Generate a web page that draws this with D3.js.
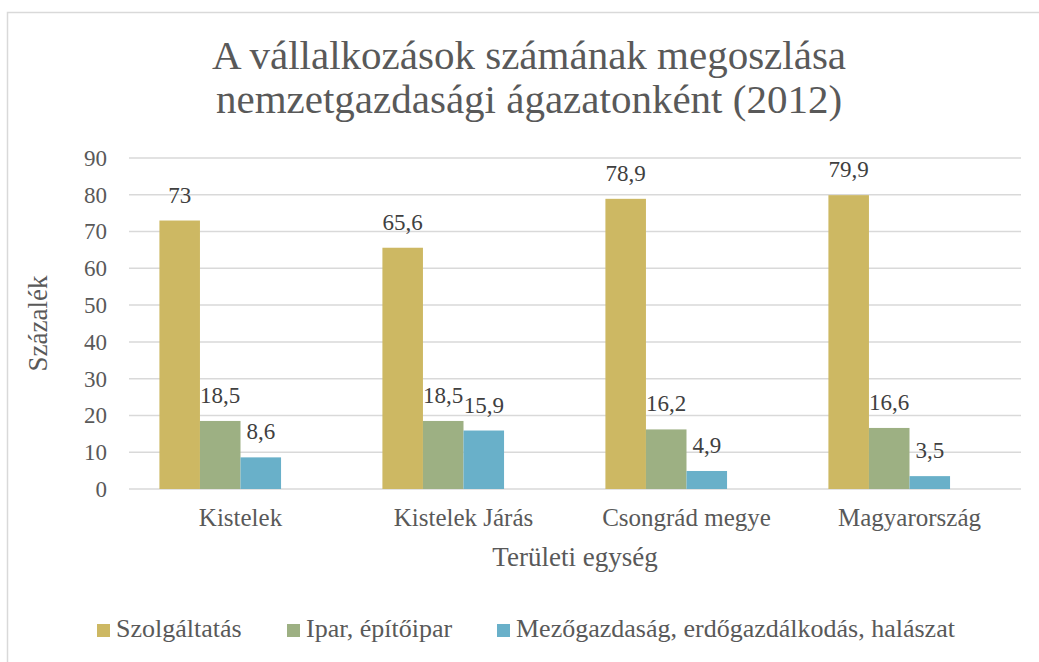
<!DOCTYPE html>
<html>
<head>
<meta charset="utf-8">
<script src="https://cdn.jsdelivr.net/npm/d3@7"></script>
</head>
<body style="margin:0;background:#fff">
<script>
const categories = ["Kistelek", "Kistelek Járás", "Csongrád megye", "Magyarország"];
const seriesNames = ["Szolgáltatás", "Ipar, építőipar", "Mezőgazdaság, erdőgazdálkodás, halászat"];
const szolgaltatas = [73, 65.6, 78.9, 79.9];
const ipar = [18.5, 18.5, 16.2, 16.6];
const mezogazdasag = [8.6, 15.9, 4.9, 3.5];
const yTicks = [0, 10, 20, 30, 40, 50, 60, 70, 80, 90];
const colors = ["#cdb863", "#9db083", "#69b0c9"];

const width = 1039;
const height = 662;
const margin = {top: 158, right: 18, bottom: 173, left: 129};
const font = '"Liberation Serif"';

const values = [szolgaltatas, ipar, mezogazdasag];

const svg = d3.select("body").append("svg")
    .attr("width", width)
    .attr("height", height);

// chart frame
svg.append("rect")
    .attr("x", 7.5)
    .attr("y", 12.5)
    .attr("width", width)
    .attr("height", height)
    .attr("fill", "none")
    .attr("stroke", "#d9d9d9")
    .attr("stroke-width", 1.5);

const x0 = d3.scaleBand()
    .domain(categories)
    .range([margin.left, width - margin.right]);

// 4 slots per group, the last one is empty (as in the original)
const x1 = d3.scaleBand()
    .domain([0, 1, 2, 3])
    .range([0, x0.bandwidth()])
    .paddingOuter(0.75);

const y = d3.scaleLinear()
    .domain([0, 90])
    .range([height - margin.bottom, margin.top]);

// gridlines
svg.append("g")
    .selectAll("line")
    .data(yTicks)
    .enter().append("line")
    .attr("x1", margin.left)
    .attr("x2", width - margin.right)
    .attr("y1", d => y(d))
    .attr("y2", d => y(d))
    .attr("stroke", "#d9d9d9")
    .attr("stroke-width", 1.5);

// y axis labels
const yAxis = svg.append("g")
    .attr("transform", `translate(${margin.left - 22},0)`)
    .call(d3.axisLeft(y).tickValues(yTicks).tickSize(0).tickPadding(0));
yAxis.select(".domain").remove();
yAxis.attr("font-family", null).attr("font-size", null);
yAxis.selectAll("text")
    .attr("fill", "#595959")
    .style("font-size", "23px")
    .style("font-family", font);

// x axis labels
const xAxis = svg.append("g")
    .attr("transform", `translate(0,${height - margin.bottom})`)
    .call(d3.axisBottom(x0).tickSize(0).tickPadding(19));
xAxis.select(".domain").remove();
xAxis.attr("font-family", null).attr("font-size", null);
xAxis.selectAll("text")
    .attr("fill", "#595959")
    .style("font-size", "25px")
    .style("font-family", font);

// bars
const groups = svg.append("g")
    .selectAll("g")
    .data(categories)
    .enter().append("g")
    .attr("transform", d => `translate(${x0(d)},0)`);

groups.selectAll("rect")
    .data((d, i) => values.map((v, s) => ({s: s, v: v[i]})))
    .enter().append("rect")
    .attr("x", d => x1(d.s))
    .attr("y", d => y(d.v))
    .attr("width", x1.bandwidth())
    .attr("height", d => y(0) - y(d.v))
    .attr("fill", d => colors[d.s]);

groups.selectAll("text.label")
    .data((d, i) => values.map((v, s) => ({s: s, v: v[i]})))
    .enter().append("text")
    .attr("class", "label")
    .attr("x", d => x1(d.s) + x1.bandwidth() / 2)
    .attr("y", d => y(d.v) - 18)
    .attr("text-anchor", "middle")
    .attr("fill", "#404040")
    .style("font-size", "23px")
    .style("font-family", font)
    .text(d => String(d.v).replace(".", ","));

// title
svg.append("text")
    .attr("text-anchor", "middle")
    .attr("fill", "#595959")
    .style("font-size", "41px")
    .style("font-family", font)
    .selectAll("tspan")
    .data(["A vállalkozások számának megoszlása", "nemzetgazdasági ágazatonként (2012)"])
    .enter().append("tspan")
    .attr("x", 529)
    .attr("y", (d, i) => 69 + i * 44)
    .text(d => d);

// axis titles
svg.append("text")
    .attr("transform", `translate(47,${(y(0) + y(90)) / 2}) rotate(-90)`)
    .attr("text-anchor", "middle")
    .attr("fill", "#595959")
    .style("font-size", "27px")
    .style("font-family", font)
    .text("Százalék");

svg.append("text")
    .attr("x", (margin.left + width - margin.right) / 2)
    .attr("y", 566)
    .attr("text-anchor", "middle")
    .attr("fill", "#595959")
    .style("font-size", "27px")
    .style("font-family", font)
    .text("Területi egység");

// legend
const legendX = [97, 287, 497];
const legend = svg.append("g")
    .selectAll("g")
    .data(seriesNames)
    .enter().append("g")
    .attr("transform", (d, i) => `translate(${legendX[i]},624)`);

legend.append("rect")
    .attr("width", 13)
    .attr("height", 13)
    .attr("fill", (d, i) => colors[i]);

legend.append("text")
    .attr("x", 19)
    .attr("y", 13)
    .attr("fill", "#595959")
    .style("font-size", "26px")
    .style("font-family", font)
    .text(d => d);
</script>
</body>
</html>
